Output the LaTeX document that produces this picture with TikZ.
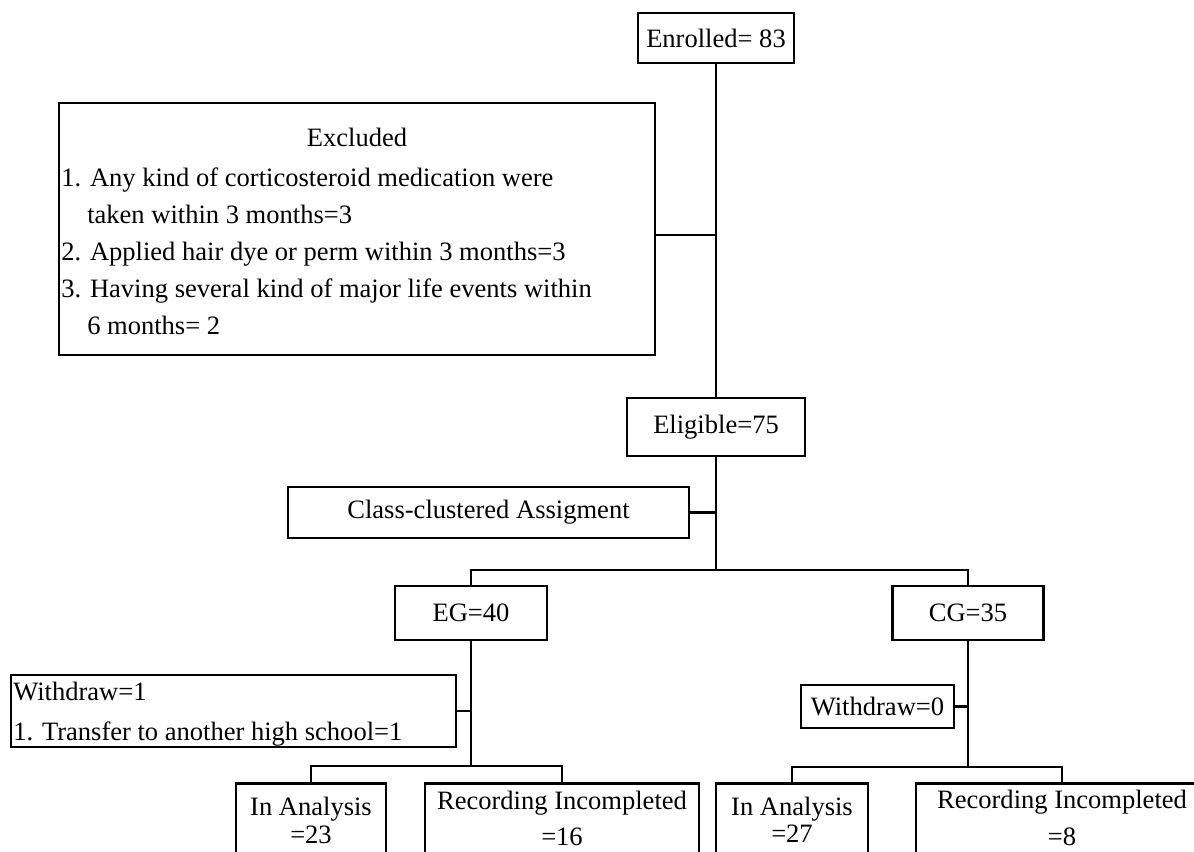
\documentclass[tikz,border=0pt]{standalone}
\usepackage{fontspec}
\setmainfont{Liberation Serif}
\newcommand\myfs{\fontsize{19.9}{23}\selectfont}
\begin{document}
\begin{tikzpicture}[x=0.75pt,y=-0.75pt,
  box/.style={draw, line width=1.9pt, inner sep=0pt, font=\myfs},
  lbl/.style={inner sep=0pt, anchor=base, font=\myfs},
  lbll/.style={inner sep=0pt, anchor=base west, font=\myfs},
  conn/.style={line width=1.8pt}]
\path[use as bounding box] (0,0) rectangle (1194,851);
\clip (0,0) rectangle (1194,851);

% boxes
\node[box, minimum width=117pt, minimum height=37.5pt] (enr) at (716,38) {Enrolled= 83};
\node[box, minimum width=447pt, minimum height=189pt] (exc) at (357,229) {};
\node[box, minimum width=133.5pt, minimum height=43.5pt] (eli) at (716,427) {Eligible=75};
\node[box, minimum width=300.75pt, minimum height=38.25pt] (cls) at (488.5,512.5) {Class-clustered Assigment};
\node[box, minimum width=114pt, minimum height=40.5pt] (eg) at (471,613) {EG=40};
\node[box, minimum width=113.25pt, minimum height=40.5pt] (cg) at (968,613) {CG=35};
\node[box, minimum width=333.75pt, minimum height=54pt] (wd1) at (233.5,711) {};
\node[box, minimum width=114.75pt, minimum height=32.25pt] (wd0) at (877.5,706.5) {Withdraw=0};
\node[box, anchor=north, minimum width=112.5pt, minimum height=90pt] (ia1) at (311,782) {};
\node[box, anchor=north, minimum width=205.5pt, minimum height=90pt] (rec1) at (562,782) {};
\node[box, anchor=north, minimum width=114pt, minimum height=90pt] (ia2) at (792,782) {};
\node[box, anchor=north, minimum width=219pt, minimum height=90pt] (rec2) at (1062,782) {};

% texts
\node[lbl] (exct) at (357,146) {Excluded};
\node[lbll] (ex1) at (61,186) {1. Any kind of corticosteroid medication were};
\node[lbll] (ex1b) at (87,223) {taken within 3 months=3};
\node[lbll] (ex2) at (61,260) {2. Applied hair dye or perm within 3 months=3};
\node[lbll] (ex3) at (61,297) {3. Having several kind of major life events within};
\node[lbll] (ex3b) at (87,334) {6 months= 2};
\node[lbll] (wd1a) at (13,700) {Withdraw=1};
\node[lbll] (wd1b) at (13,740) {1. Transfer to another high school=1};
\node[lbl] (ia1a) at (311,815) {In Analysis};
\node[lbl] (ia1b) at (311,843) {=23};
\node[lbl] (rec1a) at (562,809) {Recording Incompleted};
\node[lbl] (rec1b) at (562,845) {=16};
\node[lbl] (ia2a) at (792,815) {In Analysis};
\node[lbl] (ia2b) at (792,842) {=27};
\node[lbl] (rec2a) at (1062,808) {Recording Incompleted};
\node[lbl] (rec2b) at (1062,845) {=8};

% junctions
\coordinate (s1) at (716,570);
\coordinate (s2) at (471,766);
\coordinate (s3) at (968,767);

% connectors
\draw[conn] (enr.south) -- (eli.north);
\draw[conn] ([yshift=-4.5pt]exc.east) -- ([yshift=-4.5pt]exc.east -| eli.north);
\draw[conn] (eli.south) -- (s1);
\draw[conn] (cls.east) -- (cls.east -| s1);
\draw[conn] (eg.north) -- (eg.north |- s1) -- (cg.north |- s1) -- (cg.north);
\draw[conn] (eg.south) -- (s2);
\draw[conn] (wd1.east) -- (wd1.east -| s2);
\draw[conn] (ia1.north) -- (ia1.north |- s2) -- (rec1.north |- s2) -- (rec1.north);
\draw[conn] (cg.south) -- (s3);
\draw[conn] (wd0.east) -- (wd0.east -| s3);
\draw[conn] (ia2.north) -- (ia2.north |- s3) -- (rec2.north |- s3) -- (rec2.north);
\end{tikzpicture}
\end{document}
